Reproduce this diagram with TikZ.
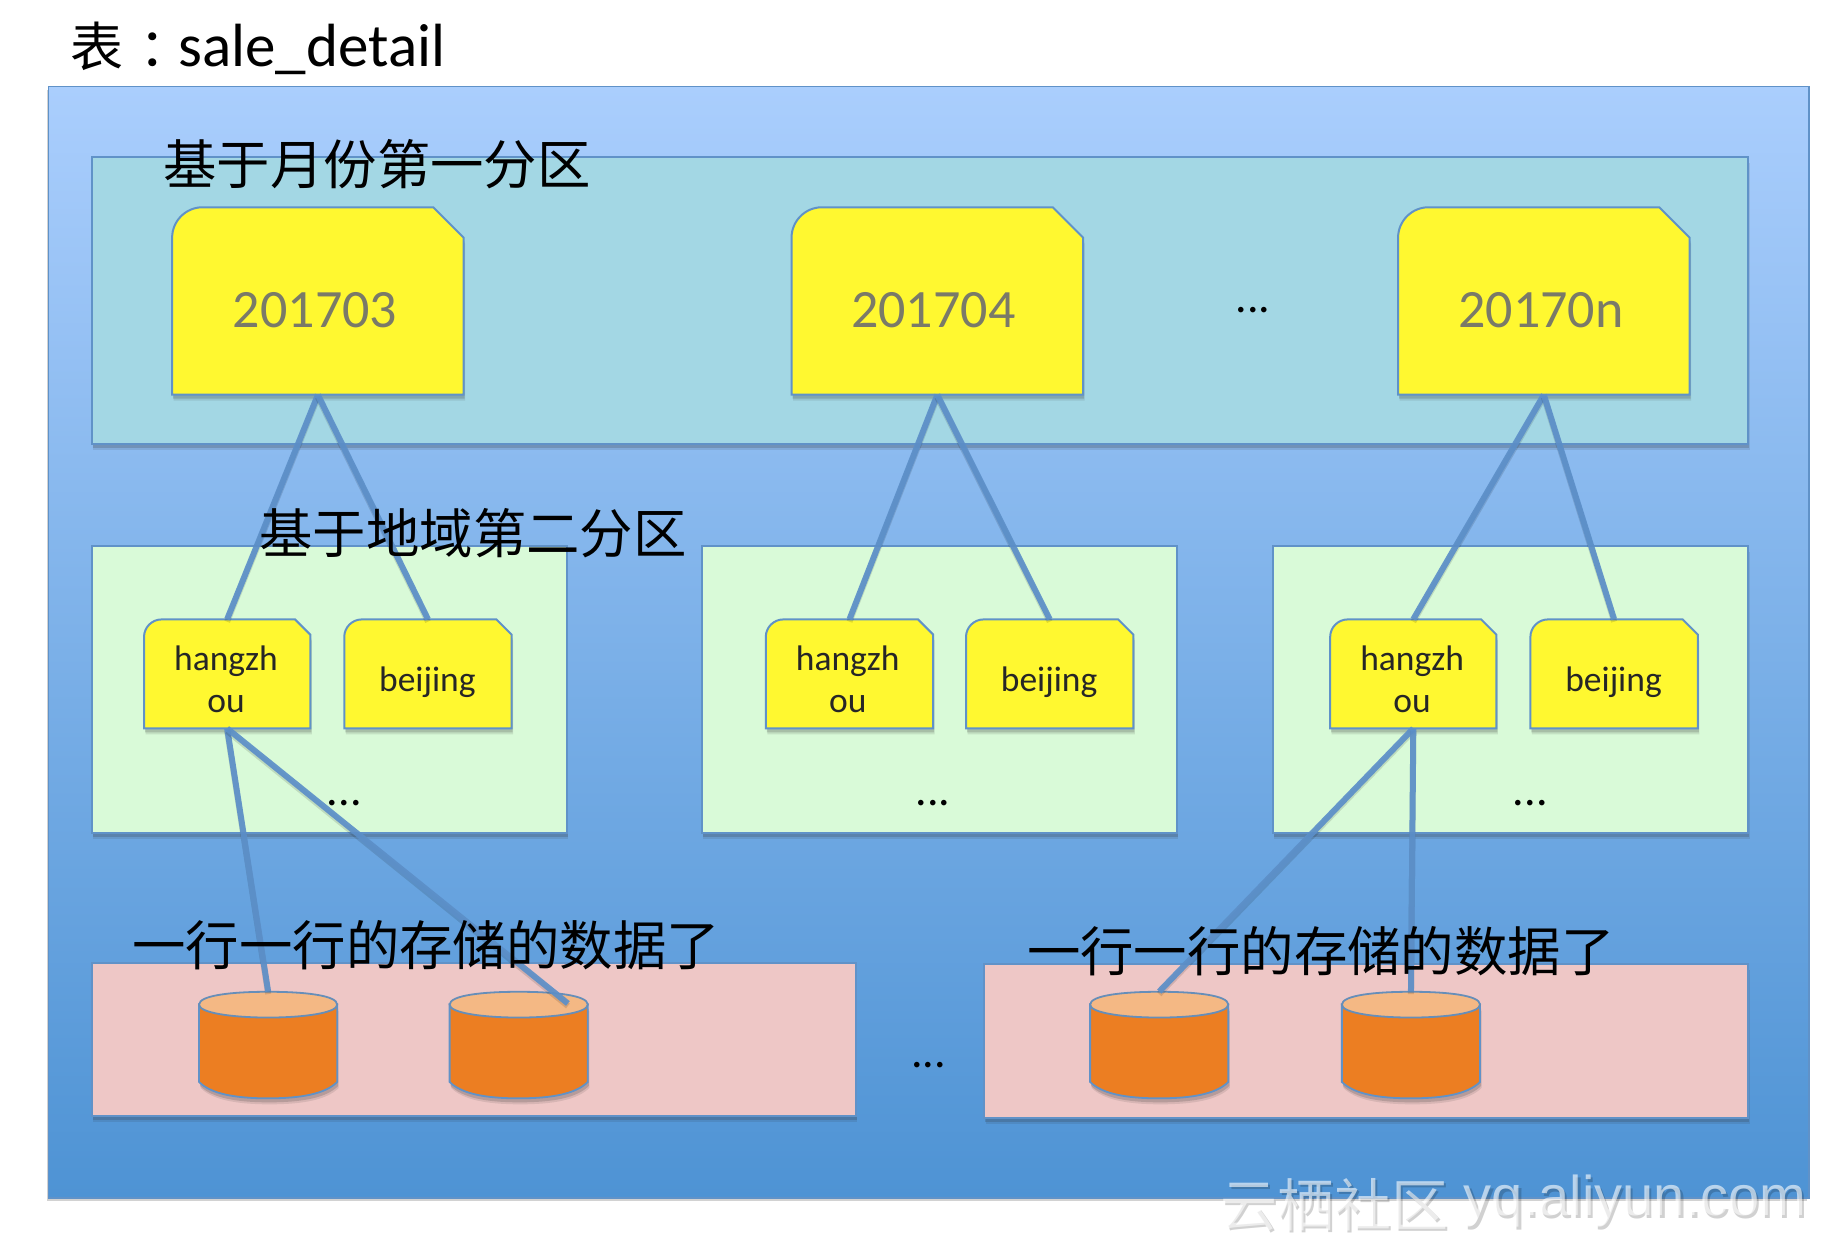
\documentclass[tikz,border=0pt]{standalone}
\usepackage{fontspec}
\setmainfont{Carlito}
\newfontfamily\cjk{Noto Sans CJK SC}
\newfontfamily\wmlat{Liberation Sans}
\usetikzlibrary{fit,shadows}
\definecolor{edgeblue}{RGB}{96,146,200}
\definecolor{linkblue}{RGB}{92,143,200}
\definecolor{topblue}{RGB}{170,206,253}
\definecolor{botblue}{RGB}{78,147,212}
\definecolor{bandcol}{RGB}{163,215,228}
\definecolor{greencol}{RGB}{217,250,216}
\definecolor{pinkcol}{RGB}{238,199,198}
\definecolor{yell}{RGB}{255,248,48}
\definecolor{orange1}{RGB}{236,126,34}
\definecolor{orange2}{RGB}{244,184,132}
\definecolor{numgray}{RGB}{122,122,104}
\tikzset{
  softshadow/.style={drop shadow={shadow xshift=1.5pt,shadow yshift=-6pt,opacity=.12,fill=black!80},
                     drop shadow={shadow xshift=1pt,shadow yshift=-4pt,opacity=.2,fill=black!80}},
  panel/.style={fit={#1},inner sep=0pt,draw=edgeblue,line width=2pt,softshadow},
  outerpanel/.style={fit={#1},inner sep=0pt,draw=edgeblue,line width=1.4pt,top color=topblue,bottom color=botblue,
     drop shadow={shadow xshift=-2pt,shadow yshift=-3pt,opacity=.25,fill=black!70}},
  shapebox/.style={fit={#1},inner sep=0pt},
  foldfill/.style={fill=yell,draw=edgeblue,line width=2pt,softshadow},
  link/.style={draw=linkblue,line width=6pt,draw opacity=.92,
     preaction={draw=black,draw opacity=.12,line width=6pt,transform canvas={yshift=-2.5pt}}},
  head/.style={font=\cjk\fontsize{53.4}{58}\selectfont,text=black,inner sep=0pt},
  bignum/.style={font=\fontsize{54}{58}\selectfont,text=numgray,inner sep=0pt},
  small/.style={font=\fontsize{35.5}{42}\selectfont,text=black!85,inner sep=0pt,align=center},
  dotsl/.style={font=\fontsize{46}{48}\selectfont,text=black,inner sep=0pt},
}
% name, x1, y1, x2, y2, radius, cut
\newcommand\folder[7]{%
  \path[foldfill] (#2+#6,#3) -- (#4-#7,#3) -- (#4,#3+#7) -- (#4,#5) -- (#2,#5) -- (#2,#3+#6)
     .. controls (#2,#3+0.45*#6) and (#2+0.45*#6,#3) .. (#2+#6,#3) -- cycle;
  \node[shapebox={(#2,#3)(#4,#5)}] (#1) {};
}
% name, x1, x2
\newcommand\drum[3]{%
  \path[fill=orange1,draw=edgeblue,line width=1.8pt,softshadow] (#2,858) -- (#2,924)
     .. controls (#2+10,934) and (#2+30,938) .. ({(#2+#3)/2},938)
     .. controls (#3-30,938) and (#3-10,934) .. (#3,924) -- (#3,858)
     .. controls (#3-10,864) and (#3-30,868) .. ({(#2+#3)/2},868)
     .. controls (#2+30,868) and (#2+10,864) .. (#2,858) -- cycle;
  \path[fill=orange2,draw=edgeblue!80!gray,line width=1.8pt] (#2,858)
     .. controls (#2,850) and (#2+28,847) .. ({(#2+#3)/2},847)
     .. controls (#3-28,847) and (#3,850) .. (#3,858)
     .. controls (#3,865) and (#3-28,869) .. ({(#2+#3)/2},869)
     .. controls (#2+28,869) and (#2,865) .. (#2,858) -- cycle;
  \node[shapebox={(#2,847)(#3,938)}] (#1) {};
}
\begin{document}
\begin{tikzpicture}[x=1.1709pt,y=-1.1709pt]
\useasboundingbox (0,0) rectangle (1568,1064);
\fill[white] (0,0) rectangle (1568,1064);
% panels
\node[outerpanel={(41.5,74)(1545,1023)}] (outer) {};
\node[panel={(78.5,134)(1493,379)},fill=bandcol] (band) {};
\node[panel={(78.5,466)(484,711)},fill=greencol] (g1) {};
\node[panel={(599.5,466)(1005,711)},fill=greencol] (g2) {};
\node[panel={(1087,466)(1493,711)},fill=greencol] (g3) {};
\node[panel={(78.5,822)(731,953.5)},fill=pinkcol] (p1) {};
\node[panel={(840.5,823)(1493,954.5)},fill=pinkcol] (p2) {};
% folders
\folder{m1}{147}{177}{396}{337}{26}{26}
\folder{m2}{676}{177}{925}{337}{26}{26}
\folder{m3}{1194}{177}{1443}{337}{26}{26}
\folder{h1}{123}{529}{265}{622}{15}{13}
\folder{b1}{294}{529}{437}{622}{15}{13}
\folder{h2}{654}{529}{797}{622}{15}{13}
\folder{b2}{825}{529}{968}{622}{15}{13}
\folder{h3}{1136}{529}{1278}{622}{15}{13}
\folder{b3}{1307}{529}{1450}{622}{15}{13}
% drums
\drum{c1}{170}{288}
\drum{c2}{384}{502}
\drum{c3}{931}{1049}
\drum{c4}{1146}{1264}
\coordinate (c2top) at (485,857);
% connectors
\draw[link] (m1.south) -- (h1.north);
\draw[link] (m1.south) -- (b1.north);
\draw[link] (m2.south) -- (h2.north);
\draw[link] (m2.south) -- (b2.north);
\draw[link] (m3.south) -- (h3.north);
\draw[link] (m3.south) -- (b3.north);
\draw[link] (h1.south) -- (c1.north);
\draw[link] (h1.south) -- (c2top);
\draw[link] (h3.south) -- (c3.north);
\draw[link] (h3.south) -- (c4.north);
% labels
\node[inner sep=0pt,anchor=base west,font=\fontsize{61}{65}\selectfont] (title) at (60,57)
  {{\cjk\fontsize{53}{58}\selectfont 表\hspace{16.5pt}：}\hspace{-14.5pt}sale\_detail};
\node[head] (l1) at (322,140) {基于月份第一分区};
\node[head] (l2) at (404,455) {基于地域第二分区};
\node[head] (l3) at (364,807) {一行一行的存储的数据了};
\node[head] (l4) at (1128,812) {一行一行的存储的数据了};
\node[bignum] (n1) at (269,265) {201703};
\node[bignum] (n2) at (797,265) {201704};
\node[bignum] (n3) at (1316,265) {20170n};
\node[small] (s1) at (193,580) {hangzh\\ou};
\node[small] (s2) at (365,583) {beijing};
\node[small] (s3) at (724,580) {hangzh\\ou};
\node[small] (s4) at (896,583) {beijing};
\node[small] (s5) at (1206,580) {hangzh\\ou};
\node[small] (s6) at (1378,583) {beijing};
\node[dotsl] (d1) at (1070,265) {...};
\node[dotsl] (d2) at (294,686) {...};
\node[dotsl] (d3) at (797,686) {...};
\node[dotsl] (d4) at (1307,686) {...};
\node[dotsl] (d5) at (793,910) {...};
% watermark
\path[text=black,text opacity=.18] node[inner sep=0pt,anchor=west,font=\cjk\fontsize{57}{60}\selectfont] (w1s) at (1044,1031) {云栖社区};
\path[text=black,text opacity=.18] node[inner sep=0pt,anchor=west,font=\wmlat\fontsize{56}{60}\selectfont] (w2s) at (1252,1028) {yq.aliyun.com};
\path[text=white,text opacity=.6] node[inner sep=0pt,anchor=west,font=\cjk\fontsize{57}{60}\selectfont] (w1) at (1042,1029) {云栖社区};
\path[text=white,text opacity=.6] node[inner sep=0pt,anchor=west,font=\wmlat\fontsize{56}{60}\selectfont] (w2) at (1250,1026) {yq.aliyun.com};
\end{tikzpicture}
\end{document}
